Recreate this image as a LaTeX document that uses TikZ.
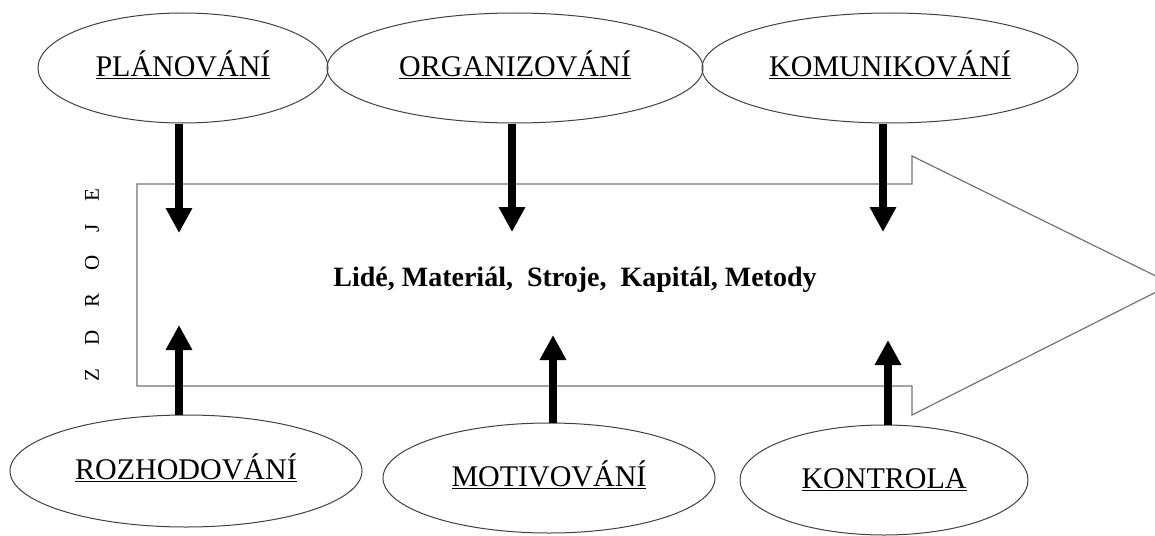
\documentclass[tikz,border=0pt]{standalone}
\usepackage{fontspec}
\setmainfont{Liberation Serif}
\usetikzlibrary{shapes.geometric,arrows.meta}
% underline with a slightly heavier rule set just below the baseline
\newcommand{\uln}[1]{{\setbox0=\hbox{#1}\rlap{\rule[-2.6pt]{\wd0}{1.3pt}}\box0}}
\begin{document}
\begin{tikzpicture}[x=1pt,y=-1pt,
  activity/.style={ellipse, draw=black!75, line width=1pt, inner sep=0pt,
    font=\fontsize{30}{35}\selectfont, text height=21pt, text depth=4pt},
  flow/.style={line width=8pt, -{Triangle[length=25pt,width=25pt]}},
  outline/.style={draw=black!55, line width=1.2pt}]
\useasboundingbox (0,0) rectangle (1155,535);
\clip (0,0) rectangle (1155,535);

% the broad process arrow
\coordinate (bodyTL) at (137,184);
\coordinate (bodyTR) at (912,184);
\coordinate (headT)  at (912,156);
\coordinate (tip)    at (1172,284);
\coordinate (headB)  at (912,415);
\coordinate (bodyBR) at (912,386);
\coordinate (bodyBL) at (137,386);
\draw[outline] (bodyTL) -- (bodyTR) -- (headT) -- (tip) -- (headB) -- (bodyBR) -- (bodyBL) -- cycle;

% resources carried by the process
\node[font=\bfseries\fontsize{28}{33}\selectfont, anchor=base] (res) at (575,286)
  {Lidé, Materiál,\ \ Stroje,\ \ Kapitál, Metody};

% side label
\node[rotate=90, font=\fontsize{21}{25}\selectfont, inner sep=0pt] (src) at (92,285)
  {Z\hspace{23pt}D\hspace{23pt}R\hspace{23pt}O\hspace{23pt}J\hspace{23pt}E};

% management functions
\node[activity, minimum width=290pt, minimum height=110pt] (plan) at (183,68) {\uln{PLÁNOVÁNÍ}};
\node[activity, minimum width=376pt, minimum height=110pt] (org)  at (515,68) {\uln{ORGANIZOVÁNÍ}};
\node[activity, minimum width=376pt, minimum height=110pt] (kom)  at (890,68) {\uln{KOMUNIKOVÁNÍ}};
\node[activity, minimum width=352pt, minimum height=112pt] (roz)  at (186,471) {\uln{ROZHODOVÁNÍ}};
\node[activity, minimum width=332pt, minimum height=110pt] (mot)  at (549,478) {\uln{MOTIVOVÁNÍ}};
\node[activity, minimum width=288pt, minimum height=110pt] (kon)  at (884,480) {\uln{KONTROLA}};

% arrow tips inside the process arrow
\coordinate (t1) at (179,233);
\coordinate (t2) at (512,232);
\coordinate (t3) at (883,232);
\coordinate (u1) at (179,325);
\coordinate (u2) at (553,335);
\coordinate (u3) at (888,340);

\draw[flow] (plan.south -| t1) -- (t1);
\draw[flow] (org.south -| t2) -- (t2);
\draw[flow] (kom.south -| t3) -- (t3);
\draw[flow] (roz.north -| u1) -- (u1);
\draw[flow] (mot.north -| u2) -- (u2);
\draw[flow] (kon.north -| u3) -- (u3);
\end{tikzpicture}
\end{document}
